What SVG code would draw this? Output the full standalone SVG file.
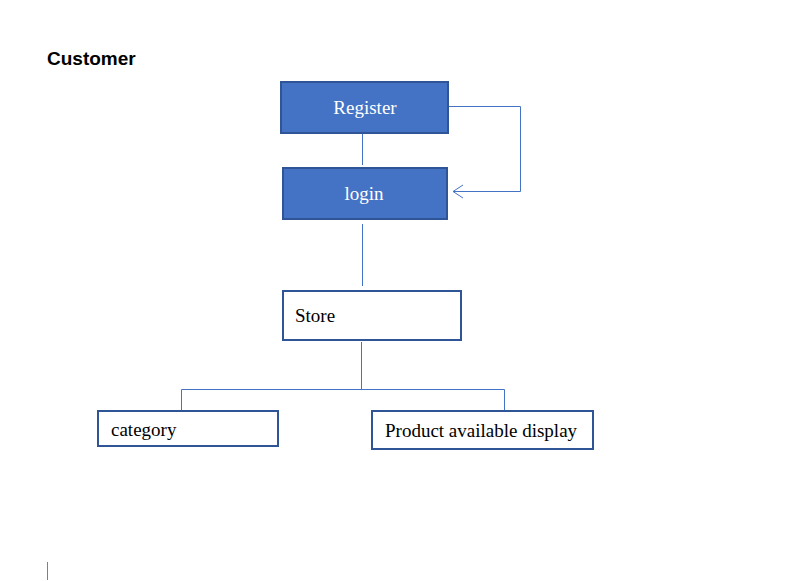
<svg xmlns="http://www.w3.org/2000/svg" width="805" height="581" viewBox="0 0 805 581">
<style>
.filled{fill:#4472C4;stroke:#2F5597;stroke-width:2}
.plain{fill:#fff;stroke:#2F5597;stroke-width:2}
.lbl{font-family:"Liberation Serif",serif;font-size:19px;fill:#000}
.wlbl{font-family:"Liberation Serif",serif;font-size:19px;fill:#fff;text-anchor:middle}
.conn{fill:none;stroke:#4472C4;stroke-width:1}
</style>
<rect width="805" height="581" fill="#fff"/>
<text x="47" y="65" font-family="Liberation Sans,Arial,sans-serif" font-size="19" font-weight="bold">Customer</text>
<line x1="47.5" y1="562" x2="47.5" y2="580" stroke="#808080" stroke-width="1"/>
<g id="connectors">
<polyline class="conn" points="448,106.5 520.5,106.5 520.5,191.5 453,191.5"/>
<polyline class="conn" points="463,185 453,191.5 463,198"/>
<line class="conn" x1="362.5" y1="133" x2="362.5" y2="165"/>
<line class="conn" x1="362.5" y1="224" x2="362.5" y2="286"/>
<line class="conn" x1="361.5" y1="342" x2="361.5" y2="389"/>
<polyline class="conn" points="181.5,410 181.5,389.5 504.5,389.5 504.5,410"/>
</g>
<g id="register">
<rect class="filled" x="281" y="82" width="167" height="51"/>
<text class="wlbl" x="365" y="114">Register</text>
</g>
<g id="login">
<rect class="filled" x="283" y="168" width="164" height="51"/>
<text class="wlbl" x="364" y="200">login</text>
</g>
<g id="store">
<rect class="plain" x="283" y="291" width="178" height="49"/>
<text class="lbl" x="295" y="322">Store</text>
</g>
<g id="category">
<rect class="plain" x="98" y="411" width="180" height="35"/>
<text class="lbl" x="111" y="436">category</text>
</g>
<g id="product">
<rect class="plain" x="372" y="411" width="221" height="38"/>
<text class="lbl" x="385" y="437">Product available display</text>
</g>
</svg>
